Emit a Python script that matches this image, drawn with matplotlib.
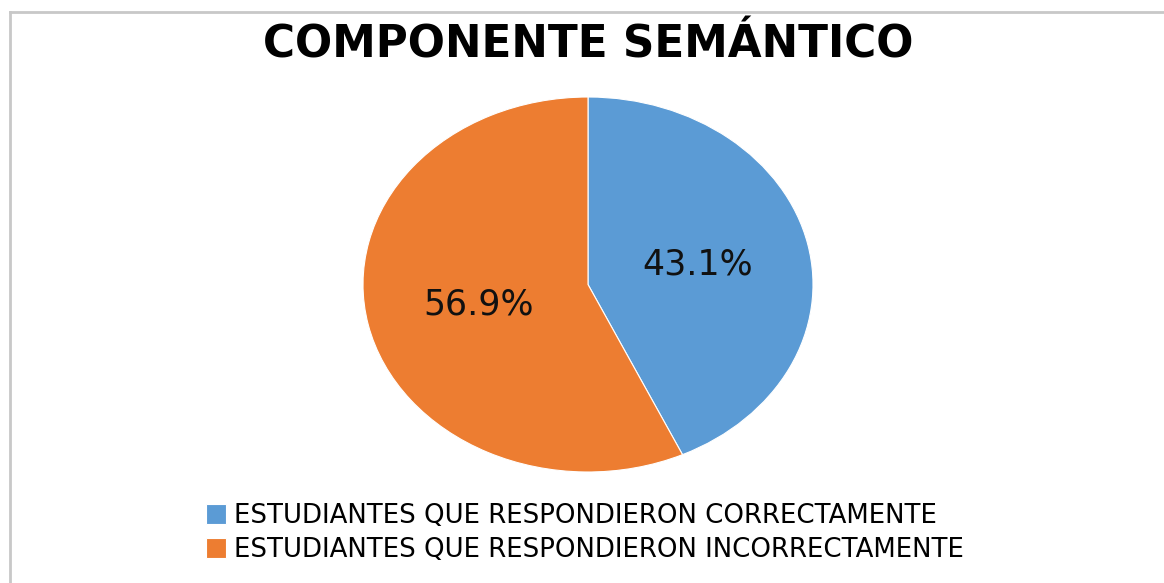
import matplotlib
matplotlib.use('Agg')
import matplotlib.pyplot as plt
from matplotlib.lines import Line2D

labels = ['ESTUDIANTES QUE RESPONDIERON CORRECTAMENTE',
          'ESTUDIANTES QUE RESPONDIERON INCORRECTAMENTE']
values = [43.1, 56.9]
colors = ['#5B9BD5', '#ED7D31']
title = 'COMPONENTE SEMÁNTICO'

W, H = 1164, 583
fig = plt.figure(figsize=(W / 100, H / 100), dpi=100)

# light frame (top and left edges only visible)
fig.add_artist(Line2D([10 / W, 1], [1 - 12 / H, 1 - 12 / H], color='#c8c8c8', lw=2))
fig.add_artist(Line2D([10 / W, 10 / W], [0, 1 - 12 / H], color='#c8c8c8', lw=2))

# elliptical pie: axes box stretched horizontally
ax = fig.add_axes([363 / W, 1 - 472 / H, 450 / W, 375 / H])
wedges, texts, autotexts = ax.pie(values, colors=colors, startangle=90, counterclock=False,
                                  autopct='%1.1f%%', pctdistance=0.5,
                                  wedgeprops=dict(edgecolor='white', linewidth=0.8),
                                  textprops=dict(fontsize=25, color='#111111'))
ax.set_aspect('auto')
ax.set_xlim(-1, 1)
ax.set_ylim(-1, 1)

fig.text(588 / W, 1 - 57 / H, title, ha='center', va='baseline',
         fontsize=31.5, fontweight='bold', family='DejaVu Sans')

fig.legend(wedges, labels, loc='upper left', bbox_to_anchor=(206 / W, 1 - 503 / H),
           frameon=False, handlelength=0.78, handleheight=0.78,
           handletextpad=0.3, labelspacing=0.3, borderaxespad=0, borderpad=0,
           prop=dict(family='DejaVu Sans', size=18.7))

fig.savefig('out.png', dpi=100, facecolor='white')
